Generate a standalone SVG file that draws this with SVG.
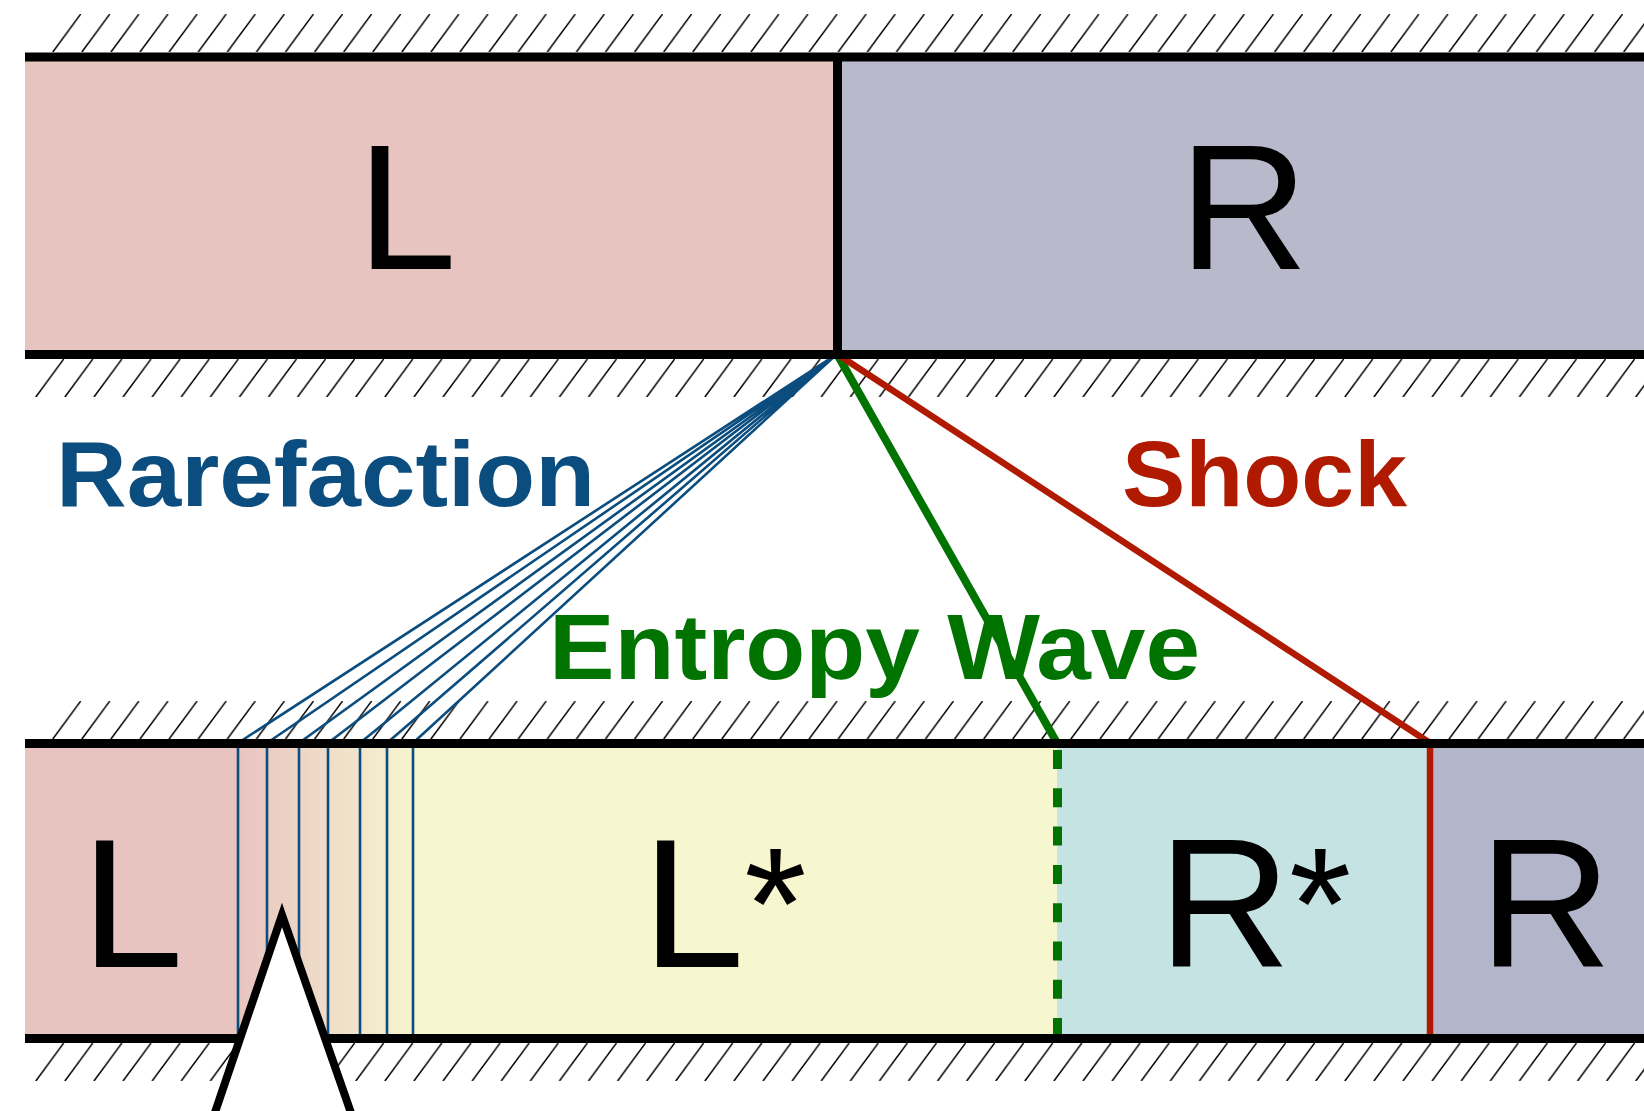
<svg xmlns="http://www.w3.org/2000/svg" width="1644" height="1111" viewBox="0 0 1644 1111">
<style>
.big{font-family:"Liberation Sans",Arial,sans-serif;fill:#000}
.star{font-size:160px}
.lbl{font-family:"Liberation Sans",Arial,sans-serif;font-weight:bold;font-size:92px}
.bar{stroke:#000;stroke-width:9}
.fan{stroke:#0B4D7E;stroke-width:2.6;fill:none}
</style>
<defs>
<pattern id="hatch" patternUnits="userSpaceOnUse" x="0" y="0" width="29.09" height="38">
<path d="M0.8,38 L28.8,0" stroke="#000" stroke-width="1.5" fill="none"/>
</pattern>
<linearGradient id="rare" gradientUnits="userSpaceOnUse" x1="238" y1="0" x2="413" y2="0">
<stop offset="0" stop-color="#E8C4C1"/>
<stop offset="1" stop-color="#F6F4CF"/>
</linearGradient>
</defs>
<rect width="1644" height="1111" fill="#fff"/>
<g id="hatches">
<rect x="0" y="0" width="1592" height="38" fill="url(#hatch)" transform="translate(52,14)"/>
<rect x="0" y="0" width="1609" height="38" fill="url(#hatch)" transform="translate(35,359)"/>
<rect x="0" y="0" width="1592" height="38" fill="url(#hatch)" transform="translate(52,701)"/>
<rect x="0" y="0" width="1609" height="38" fill="url(#hatch)" transform="translate(35,1043)"/>
</g>
<g id="top-L">
<rect x="25" y="57" width="812" height="297" fill="#E8C4C1"/>
<text class="big" x="357" y="269" font-size="179">L</text>
</g>
<g id="top-R">
<rect x="837" y="57" width="807" height="297" fill="#B8BACC"/>
<text class="big" x="1179" y="269" font-size="179">R</text>
</g>
<g id="bottom-L">
<rect x="25" y="743" width="213" height="296" fill="#E8C4C1"/>
<text class="big" x="81" y="967" font-size="184">L</text>
</g>
<g id="fan-region">
<rect x="238" y="743" width="175" height="296" fill="url(#rare)"/>
</g>
<g id="bottom-Lstar">
<rect x="413" y="743" width="644" height="296" fill="#F6F6CF"/>
<text class="big" x="642" y="967" font-size="184">L<tspan class="star" dy="-8">*</tspan></text>
</g>
<g id="bottom-Rstar">
<rect x="1057" y="743" width="373" height="296" fill="#C6E3E3"/>
<text class="big" x="1158" y="967" font-size="184">R<tspan class="star" dx="-2" dy="-8">*</tspan></text>
</g>
<g id="bottom-R">
<rect x="1430" y="743" width="214" height="296" fill="#B3B5CB"/>
<text class="big" x="1479" y="967" font-size="184">R</text>
</g>
<g id="connectors">
<g class="fan">
<path d="M837,354 L238,743 M837,354 L267,743 M837,354 L299,743 M837,354 L328,743 M837,354 L360,743 M837,354 L387,743 M837,354 L413,743"/>
<path d="M238,743 V1039 M267,743 V1039 M299,743 V1039 M328,743 V1039 M360,743 V1039 M387,743 V1039 M413,743 V1039"/>
</g>
<line x1="837" y1="354" x2="1057" y2="743" stroke="#007300" stroke-width="8"/>
<line x1="1057.5" y1="750" x2="1057.5" y2="1036" stroke="#007300" stroke-width="9" stroke-dasharray="19 19.3"/>
<line x1="837" y1="354" x2="1430" y2="743" stroke="#B01A00" stroke-width="6.5"/>
<line x1="1430" y1="743" x2="1430" y2="1039" stroke="#B01A00" stroke-width="6.5"/>
</g>
<g id="bars">
<line class="bar" x1="25" y1="57" x2="1644" y2="57"/>
<line class="bar" x1="25" y1="354.5" x2="1644" y2="354.5"/>
<line class="bar" x1="837.5" y1="57" x2="837.5" y2="354"/>
<line class="bar" x1="25" y1="743.5" x2="1644" y2="743.5"/>
<line class="bar" x1="25" y1="1038.5" x2="1644" y2="1038.5"/>
</g>
<g id="labels">
<text class="lbl" x="56" y="506" fill="#0B4D7E" textLength="539" lengthAdjust="spacingAndGlyphs">Rarefaction</text>
<text class="lbl" x="1122" y="506" fill="#B01A00" textLength="285" lengthAdjust="spacingAndGlyphs">Shock</text>
<text class="lbl" x="549" y="679" fill="#007300" textLength="651" lengthAdjust="spacingAndGlyphs">Entropy Wave</text>
</g>
<g id="pointer">
<polygon points="282,915 209,1130 357,1130" fill="#fff" stroke="#000" stroke-width="8" stroke-linejoin="miter"/>
</g>
</svg>
